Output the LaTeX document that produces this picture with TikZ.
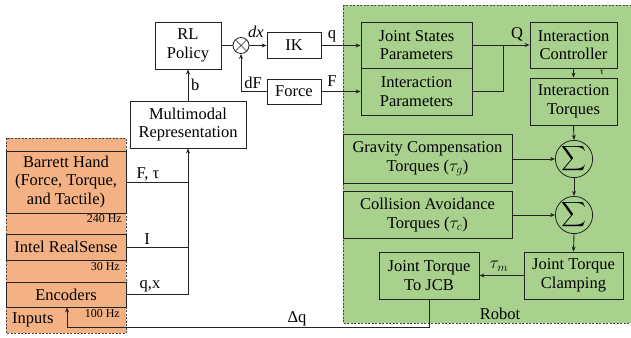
\documentclass[tikz,border=0pt]{standalone}
\usepackage{amsmath}
\usepackage{fontspec}
\setmainfont{Liberation Serif}
\usetikzlibrary{arrows.meta}
\definecolor{orangefill}{RGB}{244,177,131}
\definecolor{greenfill}{RGB}{169,209,142}
\definecolor{dashgray}{RGB}{70,70,70}
\definecolor{linecol}{RGB}{35,35,35}
\begin{document}
\begin{tikzpicture}[x=1pt,y=-1pt,
  font=\fontsize{16.5}{18.5}\selectfont,
  box/.style={draw=linecol, line width=0.8pt, align=center, inner sep=0pt},
  arr/.style={draw=linecol, line width=0.9pt, -{Stealth[length=5pt,width=4pt]}},
  ln/.style={draw=linecol, line width=0.9pt},
  lbl/.style={inner sep=0pt},
  small/.style={font=\fontsize{12}{14}\selectfont, inner sep=0pt},
  region/.style={draw=dashgray, line width=0.8pt, dash pattern=on 2pt off 1.5pt}]
\useasboundingbox (0,0) rectangle (631,337);
\fill[white] (0,0) rectangle (631,337);
% regions
\draw[region, fill=orangefill] (6,138) rectangle (126,333);
\draw[region, fill=greenfill] (343,5) rectangle (640,323);
% left column
\node[box, fill=white, minimum width=66pt, minimum height=47pt] (rl) at (188,45.5) {RL\\Policy};
\node[box, fill=white, minimum width=116pt, minimum height=47pt] (mm) at (188,124.5) {Multimodal\\Representation};
\node[box, fill=white, minimum width=54pt, minimum height=26pt] (ik) at (294,45.5) {IK};
\node[box, fill=white, minimum width=54pt, minimum height=25pt] (force) at (294,91.5) {Force};
\node[circle, draw=linecol, line width=0.8pt, minimum size=16pt, inner sep=0pt, fill=white] (ot) at (241,45.5) {};
\draw[linecol, line width=0.7pt] (ot.north west) -- (ot.south east) (ot.north east) -- (ot.south west);
% inputs
\node[box, fill=orangefill, minimum width=120pt, minimum height=62pt] (bh) at (66,182) {Barrett Hand\\(Force, Torque,\\and Tactile)};
\node[box, fill=orangefill, minimum width=120pt, minimum height=26pt] (irs) at (66,247) {Intel RealSense};
\node[box, fill=orangefill, minimum width=120pt, minimum height=25pt] (enc) at (66,294.5) {Encoders};
\node[small, anchor=east] at (122,219) {240 Hz};
\node[small, anchor=east] at (120,267) {30 Hz};
\node[small, anchor=east] at (120,314) {100 Hz};
\node[lbl, anchor=west] at (12,320) {Inputs};
% robot
\node[box, fill=greenfill, minimum width=111pt, minimum height=46pt] (jsp) at (416.5,45) {Joint States\\Parameters};
\node[box, fill=greenfill, minimum width=111pt, minimum height=47pt] (ip) at (416.5,91.5) {Interaction\\Parameters};
\node[box, fill=greenfill, minimum width=87pt, minimum height=46pt] (ic) at (573.5,45) {Interaction\\Controller};
\node[box, fill=greenfill, minimum width=87pt, minimum height=47pt] (it) at (573.5,101.5) {Interaction\\Torques};
\node[circle, draw=linecol, line width=0.8pt, minimum size=36pt, inner sep=0pt] (s1) at (574,159) {$\displaystyle\sum$};
\node[circle, draw=linecol, line width=0.8pt, minimum size=36pt, inner sep=0pt] (s2) at (574,215) {$\displaystyle\sum$};
\node[box, fill=greenfill, minimum width=169pt, minimum height=49pt] (gc) at (427.5,159) {Gravity Compensation\\Torques ($\tau_g$)};
\node[box, fill=greenfill, minimum width=169pt, minimum height=47pt] (ca) at (427.5,215) {Collision Avoidance\\Torques ($\tau_c$)};
\node[box, fill=greenfill, minimum width=99pt, minimum height=47pt] (jtc) at (573.5,275.5) {Joint Torque\\Clamping};
\node[box, fill=greenfill, minimum width=100pt, minimum height=47pt] (jcb) at (429,275.5) {Joint Torque\\To JCB};
\node[lbl] at (500,314) {Robot};
% connectors
\draw[arr] (mm.north) -- (rl.south);
\node[lbl, anchor=west] at (191,85) {b};
\draw[ln] (rl.east) -- (ot.west);
\draw[arr] (ot.east) -- (ik.west);
\node[lbl] at (256,32) {\textit{dx}};
\draw[arr] (force.west) -| (ot.south);
\node[lbl] at (253,83) {dF};
\draw[arr] (ik.east) -- (ik.east -| jsp.west);
\node[lbl] at (332,36) {q};
\draw[arr] (force.east) -- (force.east -| ip.west);
\node[lbl] at (332,81) {F};
\coordinate (qj) at (503,45);
\draw[ln] (jsp.east) -- (jsp.east -| qj);
\draw[ln] (ip.east) -- (ip.east -| qj) -- (jsp.east -| qj);
\draw[arr] (jsp.east -| qj) -- (ic.west);
\node[lbl] at (517,34) {Q};
\draw[arr] (ic.south) -- (it.north);
\node[lbl, font=\fontsize{9}{10}\selectfont] at (602,72) {τ};
\draw[arr] (it.south) -- (s1.north);
\draw[arr] (gc.east) -- (s1.west);
\draw[arr] (s1.south) -- (s2.north);
\draw[arr] (ca.east) -- (s2.west);
\draw[arr] (s2.south) -- (jtc.north);
\draw[arr] (jtc.west) -- (jcb.east);
\node[lbl] at (499,266) {$\tau_m$};
\coordinate (dqc) at (67,327);
\draw[arr] (jcb.south) |- (dqc) -- (enc.south -| dqc);
\node[lbl] at (297,319) {Δq};
\coordinate (bus) at (188,0);
\draw[ln] (bh.east) -- (bh.east -| bus);
\draw[ln] (irs.east) -- (irs.east -| bus);
\draw[ln] (enc.east) -- (enc.east -| bus);
\draw[arr] (enc.east -| bus) -- (mm.south);
\node[lbl] at (148,174) {F, τ};
\node[lbl] at (147,239) {I};
\node[lbl] at (150,286) {q,x};
\end{tikzpicture}
\end{document}
